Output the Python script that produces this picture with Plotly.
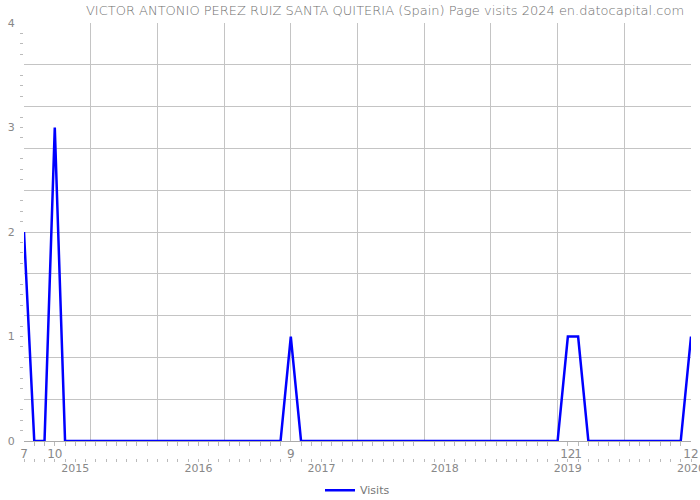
import pandas as pd
import plotly.graph_objects as go

# Monthly page visits, July 2014 .. December 2019
months = [d.strftime("%Y-%m") for d in pd.date_range("2014-07-01", "2019-12-01", freq="MS")]
visits = [2, 0, 0, 3, 0, 0,                      # 2014 Jul-Dec
          0, 0, 0, 0, 0, 0, 0, 0, 0, 0, 0, 0,    # 2015
          0, 0, 0, 0, 0, 0, 0, 0, 1, 0, 0, 0,    # 2016
          0, 0, 0, 0, 0, 0, 0, 0, 0, 0, 0, 0,    # 2017
          0, 0, 0, 0, 0, 0, 0, 0, 0, 0, 0, 1,    # 2018
          1, 0, 0, 0, 0, 0, 0, 0, 0, 0, 0, 1]    # 2019

# year labels as placed on the reference (under December of the previous year)
year_months = ["2014-12", "2015-12", "2016-12", "2017-12", "2018-12", "2019-12"]
year_labels = ["2015", "2016", "2017", "2018", "2019", "2020"]

y_labels = [0, 1, 2, 3, 4]

idx = list(range(len(months)))
month_ticks = [i for i, v in zip(idx, visits) if v > 0]
month_text = [str(int(months[i][5:])) for i in month_ticks]
year_ticks = [months.index(m) for m in year_months]

GRID = "#c4c4c4"
TXT = "#888888"
FONT = "DejaVu Sans"
xr = [0, len(months) - 1]

fig = go.Figure()
fig.add_trace(go.Scatter(x=idx, y=visits, mode="lines", name="Visits",
                         line=dict(color="#0000ff", width=2.5),
                         xaxis="x", yaxis="y"))
fig.add_trace(go.Scatter(x=idx, y=visits, mode="lines", showlegend=False,
                         hoverinfo="skip", opacity=0, xaxis="x2", yaxis="y2"))
fig.add_trace(go.Scatter(x=idx, y=visits, mode="lines", showlegend=False,
                         hoverinfo="skip", opacity=0, xaxis="x3", yaxis="y"))

fig.update_layout(
    width=700, height=500,
    margin=dict(l=24, r=9, t=23, b=42, autoexpand=False),
    paper_bgcolor="white", plot_bgcolor="white",
    font=dict(family=FONT, color=TXT, size=11),
    title=dict(text="VICTOR ANTONIO PEREZ RUIZ SANTA QUITERIA (Spain) Page visits 2024 en.datocapital.com",
               x=0.55, xanchor="center", y=0.98, yanchor="middle",
               font=dict(family=FONT, size=13, color="#707070", weight=300)),
    showlegend=True,
    legend=dict(orientation="h", x=0.5, xanchor="center", y=-0.074, yanchor="middle",
                font=dict(size=11, color="#777777")),
    xaxis=dict(range=xr, domain=[0, 1], anchor="y", tickmode="linear", tick0=0,
               dtick=(len(months) - 1) / 10, showgrid=True, gridcolor=GRID, gridwidth=1,
               showticklabels=False, ticks="", zeroline=False, automargin=False,
               showline=True, linecolor="#aaaaaa",
               minor=dict(tickmode="linear", tick0=0, dtick=1, ticks="outside",
                          ticklen=4, tickcolor="#bbbbbb", showgrid=False)),
    xaxis2=dict(range=xr, overlaying="x", anchor="y2", tickmode="array",
                tickvals=month_ticks, ticktext=month_text, tickangle=0, automargin=False,
                showgrid=False, zeroline=False, ticks="outside", ticklen=2,
                ticklabeloverflow="allow",
                tickcolor="rgba(0,0,0,0)", tickfont=dict(size=12, color=TXT)),
    xaxis3=dict(range=xr, overlaying="x", anchor="free", position=0, side="bottom",
                tickmode="array", tickvals=year_ticks, ticktext=year_labels, tickangle=0,
                showgrid=False, zeroline=False, showline=False, ticks="", automargin=False,
                ticklabeloverflow="allow", ticklabelstandoff=2,
                tickfont=dict(size=11, color=TXT),
                minor=dict(tickmode="linear", tick0=0, dtick=1, ticks="outside",
                           ticklen=3, tickcolor="#bbbbbb", showgrid=False)),
    yaxis=dict(range=[0, 4], domain=[0.039, 1], tickmode="linear", tick0=0, dtick=0.4,
               showgrid=True, gridcolor=GRID, gridwidth=1, showticklabels=False,
               ticks="", zeroline=False, automargin=False,
               minor=dict(tickmode="linear", tick0=0, dtick=0.1, ticks="outside",
                          ticklen=3, tickcolor="#bbbbbb", showgrid=False)),
    yaxis2=dict(range=[0, 4], overlaying="y", side="left", tickmode="array",
                tickvals=y_labels, ticktext=[str(v) for v in y_labels], automargin=False,
                showgrid=False, zeroline=False, ticks="outside", ticklen=6,
                tickcolor="rgba(0,0,0,0)", tickfont=dict(size=11, color=TXT)),
)

fig.write_html("out.html")
